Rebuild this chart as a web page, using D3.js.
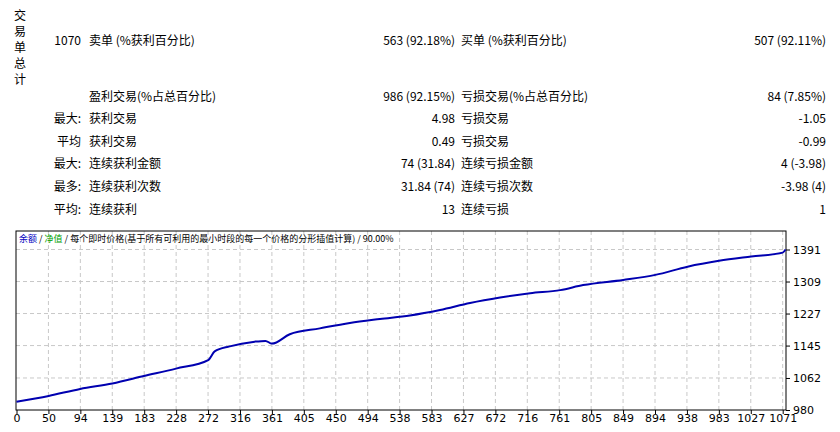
<!DOCTYPE html><html><head><meta charset="utf-8"><script src="https://cdn.jsdelivr.net/npm/d3@7"></script>
<style>body{margin:0;background:#fff}svg{display:block;font-family:"Noto Sans CJK SC",sans-serif}</style></head><body><svg id="c" width="840" height="432"></svg><script>
const xTickLabels=["0","50","94","139","183","228","272","316","361","405","450","494","538","583","627","672","716","761","805","849","894","938","983","1027","1071"];
const yTicks=[980,1062,1145,1227,1309,1391];
const tradeIdx=[0,45,89,134,178,223,268,277,298,333,348,357,382,424,466,508,550,592,634,676,718,760,792,848,893,938,982,1027,1071,1075];
const balance=[1001,1016,1034,1048,1067,1086,1108,1130,1143,1155,1157,1150,1174,1189,1203,1213,1222,1236,1254,1268,1279,1287,1300,1313,1326,1347,1362,1373,1383,1391];
const rows=[
 {y:45,a:"1070",b:"卖单 (%获利百分比)",c:"563 (92.18%)",d:"买单 (%获利百分比)",e:"507 (92.11%)"},
 {y:101,a:"",b:"盈利交易(%占总百分比)",c:"986 (92.15%)",d:"亏损交易(%占总百分比)",e:"84 (7.85%)"},
 {y:123,a:"最大:",b:"获利交易",c:"4.98",d:"亏损交易",e:"-1.05"},
 {y:146,a:"平均",b:"获利交易",c:"0.49",d:"亏损交易",e:"-0.99"},
 {y:168,a:"最大:",b:"连续获利金额",c:"74 (31.84)",d:"连续亏损金额",e:"4 (-3.98)"},
 {y:191,a:"最多:",b:"连续获利次数",c:"31.84 (74)",d:"连续亏损次数",e:"-3.98 (4)"},
 {y:214,a:"平均:",b:"连续获利",c:"13",d:"连续亏损",e:"1"}];
const svg=d3.select("#c");
const T=svg.append("g").attr("font-size",12).attr("fill","#000");
["交","易","单","总","计"].forEach((ch,i)=>T.append("text").attr("x",20).attr("y",20+i*16).attr("text-anchor","middle").text(ch));
rows.forEach(r=>{
 T.append("text").attr("x",81).attr("y",r.y).attr("text-anchor","end").text(r.a);
 T.append("text").attr("x",89).attr("y",r.y).text(r.b);
 T.append("text").attr("x",455).attr("y",r.y).attr("text-anchor","end").text(r.c);
 T.append("text").attr("x",461).attr("y",r.y).text(r.d);
 T.append("text").attr("x",826).attr("y",r.y).attr("text-anchor","end").text(r.e);
});
const L=16,R=786,Tp=231,B=410;
const x=d3.scaleLinear().domain([0,1071]).range([16.5,782.7]);
const y=d3.scaleLinear().domain([980,1391]).range([B,249.5]);
const tickPos=xTickLabels.map((_,i)=>i*1071/24);
const g=svg.append("g");
g.selectAll(".vg").data(tickPos.slice(1)).join("line").attr("x1",d=>x(d)).attr("x2",d=>x(d)).attr("y1",Tp).attr("y2",B).attr("stroke","#c8c8c8").attr("stroke-dasharray","4,3");
g.selectAll(".hg").data(yTicks.slice(1)).join("line").attr("x1",L).attr("x2",R).attr("y1",d=>y(d)).attr("y2",d=>y(d)).attr("stroke","#c8c8c8").attr("stroke-dasharray","4,3");
g.append("rect").attr("x",L).attr("y",Tp).attr("width",R-L).attr("height",B-Tp).attr("fill","none").attr("stroke","#000");
const lg=g.append("text").attr("x",19).attr("y",242).attr("font-size",9);
lg.append("tspan").attr("fill","#0000c0").text("余额");
lg.append("tspan").attr("fill","#000").text(" / ");
lg.append("tspan").attr("fill","#00a000").text("净值");
lg.append("tspan").attr("fill","#000").text(" / 每个即时价格(基于所有可利用的最小时段的每一个价格的分形插值计算) / 90.00%");
const pts=tradeIdx.map((t,i)=>[t,balance[i]]);
g.append("path").datum(pts).attr("d",d3.line().x(d=>x(d[0])).y(d=>y(d[1])).curve(d3.curveMonotoneX)).attr("fill","none").attr("stroke","#0000b0").attr("stroke-width",2);
const xa=g.append("g").attr("transform",`translate(0,${B})`).call(d3.axisBottom(x).tickValues(tickPos).tickSize(4).tickFormat((d,i)=>xTickLabels[i]));
const ya=g.append("g").attr("transform",`translate(${R},0)`).call(d3.axisRight(y).tickValues(yTicks).tickSize(4).tickFormat(d=>d));
[xa,ya].forEach(a=>{a.select(".domain").remove();a.selectAll("text").attr("font-size",11).attr("fill","#000").attr("font-family","'DejaVu Sans',sans-serif");a.selectAll("line").attr("stroke","#000");});
xa.selectAll("text").attr("dy","0.95em").attr("y",2);
</script></body></html>
